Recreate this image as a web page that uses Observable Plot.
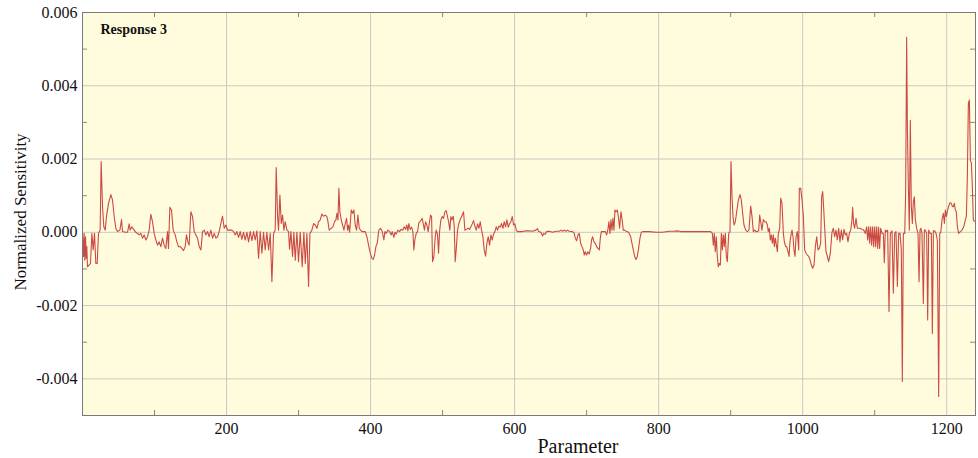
<!DOCTYPE html>
<html>
<head>
<meta charset="utf-8">
<script src="https://cdn.jsdelivr.net/npm/d3@7"></script>
<script src="https://cdn.jsdelivr.net/npm/@observablehq/plot@0.6"></script>
<style>
  html, body { margin: 0; padding: 0; background: #ffffff; }
  #chart svg { display: block; }
</style>
</head>
<body>
<div id="chart"></div>
<script>
// ---- Data (Parameter index vs Normalized Sensitivity) ----
const title = "Response 3";
const xLabel = "Parameter";
const yLabel = "Normalized Sensitivity";
const xTicks = [200, 400, 600, 800, 1000, 1200];
const yTicks = [-0.004, -0.002, 0, 0.002, 0.004, 0.006];
const xMinor = [100, 300, 500, 700, 900, 1100];
const yMinor = [-0.005, -0.003, -0.001, 0.001, 0.003, 0.005];

const param1 = [0,1.4,2.3,3.2,4.2,5.1,6.0,6.9,9.3,11.1,13.0,14.8,16.7,18.5,20.4,22.2,24.5,25.9,27.8,29.6,31.5,33.3,36.1,39.4,41.7,44.0,46.3,48.6,51.9,54.2,55.6,59.3,62.5,64.8,66.2,68.5,71.8,74.1,76.4,78.7,81.0,83.3,85.6,88.0,90.3,92.6,94.9,97.2,99.5,101.9,104.2,106.5,108.8,111.1,113.4,115.7,118.1,119.4,121.3,123.6,125.9,128.7,131.0,133.3,135.6,138.0,140.3,142.6,144.4,146.3,148.1,150.5,152.8,155.1,157.4,159.7,162.0,164.4,166.7,169.0,171.3,173.6,175.9,178.2,180.6,182.9,185.2,187.5,189.8,192.1,194.4,196.8,199.1,201.4,203.7];
const sens1 = [0,-0.00066,-0.00003,-0.00076,-0.00012,-0.00071,-0.00039,-0.00094,-0.00089,-0.00085,-0.00003,-0.00048,-0.00003,-0.00085,-0.00085,-0.00003,0.00006,0.00193,0.0007,0.00015,0.00006,0.00043,0.00079,0.00103,0.00088,0.00043,0.00011,0.00002,0.00006,0.00035,0.00002,0,0,0.00023,0.00006,0.00015,0.00006,0,-0.00003,-0.00007,-0.00003,-0.00016,-0.00007,-0.00021,-0.00012,0.00006,0.00049,0.00029,-0.00003,-0.00021,-0.00035,-0.00026,-0.00039,-0.00016,-0.00035,-0.00044,0.00002,-0.00044,0.00068,0.00061,0.00006,-0.00007,-0.00026,-0.00039,-0.00039,-0.00044,-0.0005,-0.00039,-0.00007,-0.00026,-0.00035,0.00056,0.00043,0.00002,-0.00007,-0.00016,-0.00039,-0.00048,0.00002,0.00006,-0.00007,0.00002,-0.00012,0.00006,-0.00016,-0.00003,-0.00016,-0.00012,0.00002,0.00024,0.00044,0.00011,0.0002,0.00006,0.00006];

const param2 = [207.4,209.7,212.1,214.4,216.7,219.0,221.3,223.6,225.9,228.3,230.6,232.9,235.2,237.5,239.8,242.2,244.5,246.8,249.1,251.4,253.7,256.0,258.4,260.7,263.0,265.3,267.6,269.0,270.9,272.2,274.1,276.0,277.8,279.7,281.5,283.8,286.1,287.5,289.4,291.7,293.5,295.4,297.7,300.0,302.3,305.1,307.4,309.3,311.6,313.9,315.8,318.5,320.9,323.2,325.5,327.8,330.1,332.4,334.7,337.1,339.4,340.8,342.6,345.4,347.7,350.0,351.9,353.3,354.7,356.0,357.4,359.3,361.1,363.0,364.8,366.7,368.1,369.5,370.9,373.2,375.0,376.9,378.7,380.6,382.4,384.3,386.1,388.0,392.6,394.9,397.2,399.6,401.9,403.7,405.6,407.4,409.2];
const sens2 = [0.00006,0.00002,-0.00007,0.00002,-0.00014,0.00002,-0.00019,0,-0.00021,0,-0.00026,0.00002,-0.00023,0.00002,-0.00021,0.00004,-0.00071,0.00002,-0.00057,0,-0.00048,0,-0.00048,-0.00003,-0.00135,-0.00003,0.00006,0.00177,0.00043,0.00006,0.00102,0.00024,0.00047,0.00006,0.00029,0.00006,0.00002,-0.00046,0.00002,-0.00066,0,-0.00076,0,-0.0008,0,-0.00094,0,-0.00085,-0.00003,-0.00148,-0.00003,0.00006,0.00024,0.0002,0.00011,0.00029,0.00034,0.0005,0.00044,0.00047,0.00043,0.00029,0.00006,0.00011,0.00015,0.00029,0.00034,0.00052,0.00034,0.0012,0.00056,0.00034,0.0002,0.00006,0.00024,0.00038,0.00006,0.0002,0,0.00061,0.00052,0.00061,0.0002,0.00006,0.00047,0.00011,0.00006,0.00002,0.00002,-0.00012,-0.00035,-0.00057,-0.00071,-0.00074,-0.00062,-0.00039,-0.0003];

const param3 = [411.5,413.8,416.2,418.5,419.9,421.7,424.0,426.3,428.7,430.0,432.4,433.8,435.6,437.9,440.2,442.5,444.9,446.7,448.6,450.4,451.8,453.2,455.0,456.9,458.8,460.1,461.5,463.4,465.2,467.1,469.4,471.7,473.1,474.9,476.3,478.2,480.0,481.9,483.3,484.7,486.1,487.9,489.8,491.2,493.0,494.4,495.8,497.6,499.5,501.3,503.2,505.0,506.4,508.3,510.1,511.5,512.9,514.8,516.2,517.5,518.9,520.8,522.6,525.0,527.3,529.1,531.0,533.3,535.6,537.5,539.3,541.2,543.0,544.9,546.7,548.6,550.4,552.3,554.1,556.0,557.8,559.7,561.5,563.4,565.2,567.1,568.9,570.8,572.6,574.5,576.3,578.2,580.0,581.9,583.8,585.6,587.5,589.3,591.2,593.0,594.9,596.7,598.6,600.4,602.3,604.1,610.6];
const sens3 = [0.00006,0.00011,0.00002,-0.00021,0.00002,-0.00003,0.00006,0.00002,-0.00007,0.00002,-0.00014,0,-0.00005,0.00006,0.00002,0.00008,0.00006,0.00015,0.00008,0.0002,0.00004,0.00024,0.00008,0.00014,0.00002,-0.00048,-0.00021,-0.00003,0.00002,0.00026,0.00031,0.00038,0.00024,0.00006,0.00029,0.0002,0.00002,0.00029,0.00047,0.00043,-0.0008,-0.00066,-0.00012,0.00006,-0.00007,-0.00057,0.00002,0.00034,0.00043,0.00038,0.00056,0.00059,0.00047,0.00029,0.00006,0.00043,0.00034,0.00044,0.00015,-0.0008,-0.00048,0.00006,0.00024,0.00038,0.00047,0.00056,0.00006,0.00008,0.00011,0.00008,0.00015,0.00023,0.00032,0.00017,0.00006,0.00023,0.00011,0.00029,0.00006,-0.00012,-0.00048,-0.00065,-0.0003,-0.00012,-0.00035,-0.00007,-0.00021,-0.00005,0.00002,0.00015,0.00006,0.00017,0.00014,0.00024,0.00011,0.00029,0.00015,0.00034,0.00014,0.00023,0.00029,0.00043,0.0002,0.00023,0.00006,0.00002,0.00002];

const param4 = [615.7,620.4,625.0,629.6,631.9,633.3,636.6,638.9,640.3,642.6,644.4,648.1,652.8,657.4,662.0,664.3,666.7,669.0,671.3,673.6,675.9,680.5,682.9,684.2,686.1,688.0,689.8,691.7,693.5,695.4,696.8,698.1,700.0,701.8,703.7,705.5,706.9,708.3,710.2,712.0,713.9,715.7,717.6,719.0,720.4,723.1,725.9,727.8,729.6,731.0,732.4,733.8,735.2,736.6,738.0,739.3,740.7,742.6,744.4,745.8,747.7,749.1,750.9,752.8,755.5,758.3,761.1,763.0,764.8,766.7,768.5,770.4,772.2,774.1,775.9,778.7,787.0,796.3,805.5,814.8];
const sens4 = [0.00004,0.00004,0.00003,0.00006,0.0001,0.00002,0,-0.0001,-0.00003,-0.00005,0.00002,0.00003,0,0.00003,0.00003,0.00006,0.00003,0.00006,0.00003,0.00006,0.00003,0.00002,-0.00003,-0.00016,-0.00023,-0.00007,-0.00003,-0.0003,-0.00039,-0.00048,-0.00062,-0.00053,-0.00062,-0.00053,-0.00059,-0.00044,-0.00021,-0.00012,-0.00026,-0.0003,-0.00039,-0.00044,-0.00048,-0.00016,0.00002,0.00002,0.00002,-0.00007,0.00008,0.00029,-0.00003,0.00034,0.00006,0.00038,0.00006,0.00061,0.00056,0.00061,0.00038,0.00011,0.00056,0.00038,0.00006,0.00006,0.00002,0,-0.00012,-0.0003,-0.00048,-0.00066,-0.00074,-0.00066,-0.00044,-0.00016,0,0.00002,0.00002,0,0,0.00003];

const param5 = [821.3,826.0,830.6,844.5,863.0,872.3,874.6,876.0,877.3,878.7,880.1,881.5,882.9,884.3,885.7,887.1,888.5,889.8,891.2,892.6,894.0,895.4,897.3,899.1,900.5,901.9,903.3,904.7,906.5,908.4,910.7,913.0,914.8,916.7,918.5,920.9,923.2,925.5,927.8,929.7,931.5,933.4,935.2,937.1,938.9,940.3,941.7,943.5,945.4,947.3,949.1,951.0,952.3,953.7,955.1,956.5,957.9,959.3,960.7,962.1,963.5,964.9,966.2,968.1,969.5,971.3,973.2,974.6,976.4,977.8,979.7,981.1,982.4,983.8,985.2,986.6,988.0,989.4,990.8,992.6,994.5,995.4,997.3,999.1,1001.0,1002.8,1004.7,1006.5,1008.4,1010.2,1012.1,1013.9,1015.8,1017.6,1019.5,1021.3,1023.2,1025.0,1026.4,1027.8,1029.2,1030.6,1032.4,1034.3,1036.1];
const sens5 = [0.00003,0.00004,0.00002,0.00002,0.00002,0.00002,-0.00003,-0.00035,-0.00003,-0.00053,-0.00012,-0.00066,-0.00094,-0.00085,-0.00089,-0.00003,-0.00048,-0.00007,-0.00039,-0.00003,-0.00066,-0.0008,-0.00003,0.00002,0.00193,0.00097,0.00043,0.0002,0.00029,0.00056,0.00088,0.00103,0.00088,0.00052,0.0002,0.00006,0.00002,0.00006,0.00072,0.00043,0.00002,0.00006,0.00002,0.00002,0.00004,0.00047,0.00029,0.00006,0.00035,0.00029,0.00029,0.0002,0.00002,0.00011,-0.00021,-0.00007,-0.0003,-0.00007,-0.00039,-0.00016,-0.00035,-0.00053,-0.00003,0.00011,0.00093,0.00079,-0.00003,-0.00026,-0.00039,-0.00039,-0.00053,-0.00066,-0.00026,-0.00007,0.00006,-0.00012,-0.00048,-0.00066,-0.00012,0.00002,-0.00048,0.0012,0.0012,0.00088,0.00043,-0.00048,-0.00057,-0.00062,-0.00066,-0.00075,-0.00089,-0.00098,-0.00089,-0.00039,-0.00012,-0.00048,-0.00044,-0.0003,0.00097,0.00111,0.00065,0.00011,-0.00053,-0.00066,-0.0008];

const param6 = [1038.4,1040.7,1042.6,1044.4,1046.3,1048.1,1050.0,1051.8,1053.7,1055.5,1057.4,1059.2,1061.1,1062.9,1064.8,1066.7,1068.5,1069.4,1070.8,1072.2,1074.1,1075.9,1077.8,1080.1,1082.4,1084.7,1087.0,1088.9,1090.3,1091.7,1093.0,1094.4,1095.8,1097.2,1098.6,1100.0,1101.4,1102.8,1104.2,1105.5,1106.9,1108.3,1110.2,1112.0,1113.4,1114.8,1116.7,1118.0,1119.9,1121.7,1124.1,1125.9,1127.8,1129.6,1131.5,1133.3,1135.2,1137.0,1138.4,1139.8,1141.7,1143.0,1144.4,1145.4,1146.7,1148.1,1149.5,1150.9,1152.3,1153.7,1155.1,1156.5,1158.3,1160.2,1161.6,1163.0,1164.3,1165.7,1167.6,1169.0,1170.4,1172.2,1173.6,1175.0,1176.8,1178.7,1180.1,1181.5,1183.3,1185.2,1187.0,1188.9,1190.3,1191.7,1193.5,1195.4,1196.8,1198.1,1199.5,1201.4,1203.2,1204.6,1206.5,1207.9,1209.2,1210.6,1212.0,1213.4,1214.8,1216.7,1219.0,1221.3,1223.6,1225.9,1227.3,1228.7,1230.1,1231.5,1232.9,1234.3,1235.6,1237.0,1238.4];
const sens6 = [-0.00057,0,0.00011,-0.00012,0.00006,-0.00021,0.00011,-0.00026,0.00006,-0.00021,0.00008,-0.00007,-0.00003,-0.00026,-0.00003,0.00006,0.00034,0.00068,0.00024,0.00011,0.00038,0.00011,0.00011,0.00011,0.00008,0.00006,-0.00003,0.00015,-0.00021,0.00015,-0.0003,0.00015,-0.00035,0.00015,-0.00039,0.00015,-0.00039,0.00015,-0.00044,0.00014,-0.00044,0.00011,-0.00003,-0.00003,-0.00083,0.00006,0.00002,0.00006,-0.00216,-0.00003,0.00004,-0.00166,-0.00003,0.00002,-0.00148,-0.00003,-0.00003,-0.00048,-0.00407,-0.00003,-0.00003,0.00106,0.00532,0.00288,0.00134,0.00006,0.00306,0.0007,0.00024,0.00084,0.00097,0.00034,0.00011,-0.00003,-0.00135,0.00006,0.00011,-0.00003,-0.00194,0.00006,0.00006,-0.00003,-0.00239,0.00006,-0.00003,-0.00003,-0.00276,0.00004,0.00004,-0.00003,-0.00021,-0.00448,-0.00003,-0.00001,0.00034,0.00052,0.00024,0.00061,0.00043,0.00061,0.00074,0.00081,0.00079,0.0007,0.0007,0.00079,0.00061,0.00056,0.00015,-0.00003,0.00002,0.00006,0.00015,0.00034,0.00043,0.00152,0.00352,0.00361,0.00197,0.00188,0.00124,0.00034,0.0003];

// Table built from the arrays
const params = [...param1, ...param2, ...param3, ...param4, ...param5, ...param6];
const sens = [...sens1, ...sens2, ...sens3, ...sens4, ...sens5, ...sens6];
const data = params.map((p, i) => ({param: p, sens: sens[i]}));

const serif = "'Liberation Serif', 'Times New Roman', serif";
const W = 978, H = 458;
const mL = 82, mR = 3, mT = 12, mB = 43;
const innerH = H - mT - mB;

const chart = Plot.plot({
  width: W,
  height: H,
  marginLeft: mL,
  marginRight: mR,
  marginTop: mT,
  marginBottom: mB,
  style: {fontFamily: serif, background: "#ffffff", overflow: "visible"},
  x: {domain: [0, 1240]},
  y: {domain: [-0.005, 0.006]},
  marks: [
    Plot.frame({fill: "#fefcdd", stroke: null}),
    Plot.gridX(xTicks, {stroke: "#c9c9c0", strokeOpacity: 1, strokeWidth: 1}),
    Plot.gridY(yTicks, {stroke: "#c9c9c0", strokeOpacity: 1, strokeWidth: 1}),
    Plot.tickX(xMinor, {x: d => d, stroke: "#888", insetTop: innerH - 5}),
    Plot.tickX(xMinor, {x: d => d, stroke: "#888", insetBottom: innerH - 5}),
    Plot.tickY(yMinor, {y: d => d, stroke: "#888", insetRight: (W - mL - mR) - 5}),
    Plot.tickY(yMinor, {y: d => d, stroke: "#888", insetLeft: (W - mL - mR) - 5}),
    Plot.line(data, {x: "param", y: "sens", stroke: "#cc4a44", strokeWidth: 1.1}),
    Plot.axisX(xTicks, {tickSize: 0, tickPadding: 7, fontSize: 16, label: null, fill: "#111", tickFormat: d => String(d)}),
    Plot.axisY(yTicks, {tickSize: 0, tickPadding: 5, fontSize: 16, label: null, fill: "#111", tickFormat: d => d.toFixed(3)}),
    Plot.frame({stroke: "#7a7a7a", strokeWidth: 1}),
    Plot.text([title], {frameAnchor: "top-left", dx: 18, dy: 12, fontSize: 14, fontWeight: "bold", fill: "#111", textAnchor: "start"}),
    Plot.text([xLabel], {frameAnchor: "bottom", dx: 49, dy: 37, fontSize: 20, fill: "#111", textAnchor: "middle"}),
    Plot.text([yLabel], {frameAnchor: "left", dx: -62, dy: -2, rotate: -90, fontSize: 17, fill: "#111", textAnchor: "middle"})
  ]
});

document.getElementById("chart").appendChild(chart);
</script>
</body>
</html>
